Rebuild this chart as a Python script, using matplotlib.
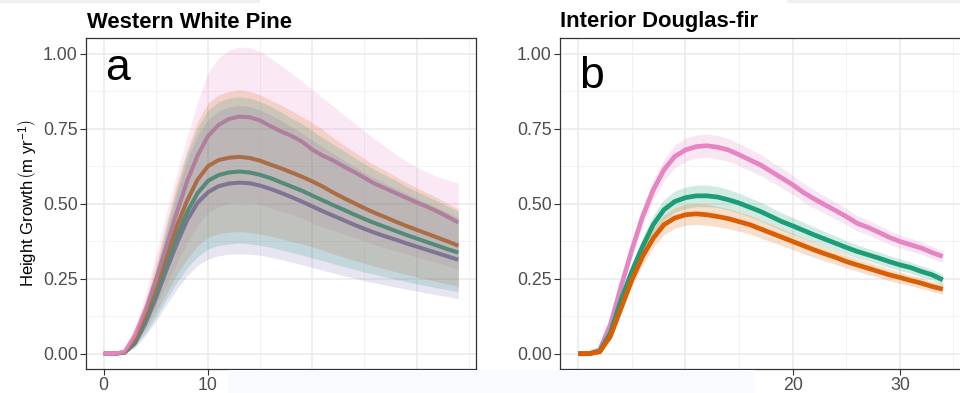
import matplotlib
matplotlib.use("Agg")
import matplotlib.pyplot as plt
from matplotlib.patches import Rectangle
from matplotlib.ticker import MultipleLocator, FormatStrFormatter

plt.rcParams['font.family'] = ['Liberation Sans', 'DejaVu Sans']
plt.rcParams['mathtext.fontset'] = 'custom'
plt.rcParams['mathtext.rm'] = 'Liberation Sans'
plt.rcParams['mathtext.it'] = 'Liberation Sans:italic'

# years since planting
age = list(range(35))

# --- panel a: Western White Pine (4 groups, mean + interval) ---
wp_pink = [0, 0, 0.006, 0.063, 0.146, 0.246, 0.357, 0.47, 0.575, 0.66, 0.725, 0.762, 0.782, 0.79, 0.788,
           0.777, 0.758, 0.741, 0.726, 0.707, 0.68, 0.66, 0.644, 0.624, 0.606, 0.586, 0.566, 0.551, 0.535,
           0.52, 0.504, 0.49, 0.474, 0.456, 0.437]
wp_pink_lo = [0, 0, 0.003, 0.04, 0.095, 0.16, 0.23, 0.3, 0.37, 0.43, 0.47, 0.49, 0.5, 0.505, 0.503, 0.497,
              0.485, 0.474, 0.464, 0.452, 0.435, 0.422, 0.412, 0.4, 0.388, 0.375, 0.362, 0.352, 0.342, 0.333,
              0.322, 0.313, 0.303, 0.292, 0.28]
wp_pink_hi = [0, 0, 0.01, 0.09, 0.2, 0.33, 0.47, 0.6, 0.72, 0.84, 0.935, 0.985, 1.012, 1.022, 1.02, 1.007,
              0.985, 0.96, 0.935, 0.908, 0.88, 0.852, 0.825, 0.797, 0.769, 0.742, 0.715, 0.69, 0.665, 0.642,
              0.622, 0.605, 0.59, 0.579, 0.568]

wp_orange = [0, 0, 0.005, 0.05, 0.13, 0.224, 0.325, 0.424, 0.51, 0.58, 0.625, 0.645, 0.653, 0.656, 0.652,
             0.643, 0.63, 0.618, 0.604, 0.59, 0.574, 0.557, 0.537, 0.519, 0.502, 0.485, 0.469, 0.455, 0.44,
             0.426, 0.413, 0.4, 0.387, 0.374, 0.36]
wp_orange_lo = [0, 0, 0.003, 0.031, 0.08, 0.139, 0.2, 0.263, 0.316, 0.36, 0.388, 0.4, 0.405, 0.407, 0.404,
                0.399, 0.391, 0.383, 0.374, 0.366, 0.356, 0.345, 0.333, 0.322, 0.311, 0.301, 0.291, 0.282,
                0.273, 0.264, 0.256, 0.248, 0.24, 0.232, 0.224]
wp_orange_hi = [0, 0, 0.007, 0.07, 0.175, 0.3, 0.435, 0.568, 0.68, 0.775, 0.835, 0.862, 0.874, 0.879, 0.874,
                0.862, 0.845, 0.828, 0.81, 0.79, 0.77, 0.747, 0.72, 0.696, 0.673, 0.65, 0.628, 0.61, 0.59,
                0.571, 0.553, 0.536, 0.519, 0.501, 0.482]

wp_green = [0, 0, 0.004, 0.042, 0.113, 0.2, 0.298, 0.39, 0.472, 0.535, 0.576, 0.595, 0.604, 0.607, 0.604,
            0.596, 0.585, 0.571, 0.557, 0.543, 0.527, 0.511, 0.495, 0.48, 0.464, 0.449, 0.435, 0.422, 0.409,
            0.396, 0.384, 0.372, 0.36, 0.348, 0.337]
wp_green_lo = [0, 0, 0.002, 0.025, 0.068, 0.121, 0.181, 0.236, 0.286, 0.324, 0.349, 0.361, 0.366, 0.368,
               0.366, 0.361, 0.355, 0.346, 0.338, 0.329, 0.319, 0.31, 0.3, 0.291, 0.281, 0.272, 0.264, 0.256,
               0.248, 0.24, 0.233, 0.226, 0.219, 0.213, 0.207]
wp_green_hi = [0, 0, 0.006, 0.059, 0.16, 0.282, 0.42, 0.55, 0.666, 0.754, 0.812, 0.839, 0.852, 0.856, 0.852,
               0.84, 0.825, 0.805, 0.785, 0.766, 0.743, 0.72, 0.698, 0.677, 0.654, 0.633, 0.613, 0.595, 0.577,
               0.558, 0.541, 0.525, 0.508, 0.491, 0.475]

wp_purple = [0, 0, 0.003, 0.035, 0.102, 0.185, 0.278, 0.366, 0.445, 0.503, 0.538, 0.558, 0.567, 0.57, 0.568,
             0.56, 0.549, 0.536, 0.522, 0.507, 0.491, 0.475, 0.46, 0.445, 0.43, 0.416, 0.403, 0.391, 0.38,
             0.368, 0.357, 0.346, 0.335, 0.324, 0.313]
wp_purple_lo = [0, 0, 0.002, 0.02, 0.06, 0.108, 0.163, 0.214, 0.26, 0.294, 0.315, 0.326, 0.332, 0.333, 0.332,
                0.328, 0.321, 0.314, 0.305, 0.297, 0.287, 0.278, 0.269, 0.26, 0.252, 0.243, 0.236, 0.229,
                0.222, 0.215, 0.209, 0.202, 0.196, 0.19, 0.183]
wp_purple_hi = [0, 0, 0.004, 0.051, 0.148, 0.268, 0.403, 0.531, 0.645, 0.729, 0.78, 0.809, 0.822, 0.827,
                0.824, 0.812, 0.796, 0.777, 0.757, 0.735, 0.712, 0.689, 0.667, 0.645, 0.624, 0.603, 0.584,
                0.567, 0.551, 0.534, 0.518, 0.502, 0.486, 0.47, 0.454]

# --- panel b: Interior Douglas-fir (3 groups, mean +/- se) ---
df_pink = [0, 0, 0.013, 0.097, 0.224, 0.346, 0.457, 0.546, 0.613, 0.657, 0.679, 0.69, 0.693, 0.688, 0.679,
           0.663, 0.646, 0.629, 0.607, 0.585, 0.563, 0.537, 0.516, 0.496, 0.477, 0.457, 0.435, 0.421, 0.405,
           0.388, 0.374, 0.363, 0.352, 0.337, 0.324]
df_pink_se = [0, 0, 0.003, 0.01, 0.018, 0.025, 0.03, 0.034, 0.036, 0.038, 0.039, 0.039, 0.039, 0.039, 0.038,
              0.037, 0.036, 0.035, 0.034, 0.033, 0.032, 0.031, 0.03, 0.029, 0.028, 0.027, 0.026, 0.025, 0.024,
              0.023, 0.022, 0.022, 0.021, 0.021, 0.02]

df_green = [0, 0, 0.008, 0.069, 0.18, 0.274, 0.357, 0.43, 0.48, 0.507, 0.52, 0.526, 0.526, 0.522, 0.513,
            0.502, 0.488, 0.474, 0.457, 0.44, 0.426, 0.411, 0.396, 0.382, 0.368, 0.354, 0.341, 0.33, 0.319,
            0.307, 0.296, 0.287, 0.274, 0.263, 0.246]
df_green_se = [0, 0, 0.003, 0.01, 0.018, 0.024, 0.029, 0.032, 0.034, 0.035, 0.036, 0.036, 0.036, 0.035,
               0.034, 0.033, 0.032, 0.031, 0.03, 0.029, 0.028, 0.027, 0.026, 0.025, 0.024, 0.023, 0.022,
               0.021, 0.021, 0.02, 0.02, 0.019, 0.019, 0.018, 0.018]

df_orange = [0, 0, 0.006, 0.058, 0.152, 0.246, 0.324, 0.385, 0.43, 0.452, 0.463, 0.466, 0.463, 0.457, 0.45,
             0.44, 0.43, 0.416, 0.402, 0.388, 0.374, 0.36, 0.346, 0.333, 0.321, 0.307, 0.296, 0.285, 0.274,
             0.263, 0.254, 0.244, 0.235, 0.224, 0.215]
df_orange_se = [0, 0, 0.003, 0.01, 0.017, 0.023, 0.028, 0.031, 0.033, 0.034, 0.035, 0.035, 0.035, 0.034,
                0.033, 0.032, 0.031, 0.03, 0.029, 0.028, 0.027, 0.026, 0.025, 0.024, 0.023, 0.022, 0.021,
                0.021, 0.02, 0.02, 0.019, 0.018, 0.018, 0.017, 0.017]

PINK, ORANGE, GREEN, PURPLE = '#E585C4', '#D95F02', '#1B9E77', '#7570B3'


def style_axes(ax):
    ax.set_xlim(-1.7, 35.7)
    ax.set_ylim(-0.051, 1.052)
    ax.xaxis.set_major_locator(MultipleLocator(10))
    ax.xaxis.set_minor_locator(MultipleLocator(5))
    ax.yaxis.set_major_locator(MultipleLocator(0.25))
    ax.yaxis.set_minor_locator(MultipleLocator(0.125))
    ax.yaxis.set_major_formatter(FormatStrFormatter('%.2f'))
    ax.grid(which='major', color='#EBEBEB', linewidth=1.2, zorder=0)
    ax.grid(which='minor', color='#F2F2F2', linewidth=0.7, zorder=0)
    ax.set_axisbelow(True)
    ax.tick_params(which='major', length=4, width=0.8, color='#333333', labelcolor='#4D4D4D',
                   labelsize=12.8, pad=2)
    ax.tick_params(which='minor', length=0)
    for sp in ax.spines.values():
        sp.set_color('#333333')
        sp.set_linewidth(0.9)


fig = plt.figure(figsize=(9.6, 3.93), dpi=100)
ax1 = fig.add_axes([86 / 960, 24 / 393, 390 / 960, 331 / 393])
ax2 = fig.add_axes([560 / 960, 24 / 393, 401 / 960, 331 / 393])

# panel a: lines first, intervals drawn over them
for y, c in [(wp_purple, PURPLE), (wp_green, GREEN), (wp_orange, ORANGE), (wp_pink, PINK)]:
    ax1.plot(age, y, color=c, lw=2.9, solid_capstyle='butt', zorder=2)
for lo, hi, c in [(wp_pink_lo, wp_pink_hi, PINK), (wp_orange_lo, wp_orange_hi, ORANGE),
                  (wp_green_lo, wp_green_hi, GREEN), (wp_purple_lo, wp_purple_hi, PURPLE)]:
    ax1.fill_between(age, lo, hi, color=c, alpha=0.18, lw=0, zorder=3)
style_axes(ax1)
ax1.set_ylabel('Height Growth$\\,\\left(\\mathrm{m\\ yr^{-1}}\\right)$', fontsize=12, color='black', labelpad=3)
ax1.text(0.1, 0.912, 'a', fontsize=32, ha='left', va='baseline')

# panel b
for y, se, c in [(df_pink, df_pink_se, PINK), (df_green, df_green_se, GREEN), (df_orange, df_orange_se, ORANGE)]:
    ax2.fill_between(age, [v - s for v, s in zip(y, se)], [v + s for v, s in zip(y, se)],
                     color=c, alpha=0.2, lw=0, zorder=2)
for y, c in [(df_pink, PINK), (df_green, GREEN), (df_orange, ORANGE)]:
    ax2.plot(age, y, color=c, lw=3.4, solid_capstyle='butt', zorder=3)
style_axes(ax2)
ax2.text(0.1, 0.886, 'b', fontsize=32, ha='left', va='baseline')

fig.text(87 / 960, 1 - 27.5 / 393, 'Western White Pine', fontsize=15.8, fontweight='bold', va='baseline')
fig.text(560 / 960, 1 - 27.5 / 393, 'Interior Douglas-fir', fontsize=15.8, fontweight='bold', va='baseline')

# screenshot artefacts: pale band over the x labels, grey strip on top
fig.add_artist(Rectangle((228 / 960, 0), 527 / 960, 23 / 393, transform=fig.transFigure,
                         facecolor='#F8FAFF', edgecolor='none', zorder=10))
fig.add_artist(Rectangle((0, 1 - 3 / 393), 260 / 960, 3 / 393, transform=fig.transFigure,
                         facecolor='#F0F0F0', edgecolor='none', zorder=10))
fig.add_artist(Rectangle((787 / 960, 1 - 3 / 393), 173 / 960, 3 / 393, transform=fig.transFigure,
                         facecolor='#F0F0F0', edgecolor='none', zorder=10))

fig.savefig('out.png', dpi=100)
